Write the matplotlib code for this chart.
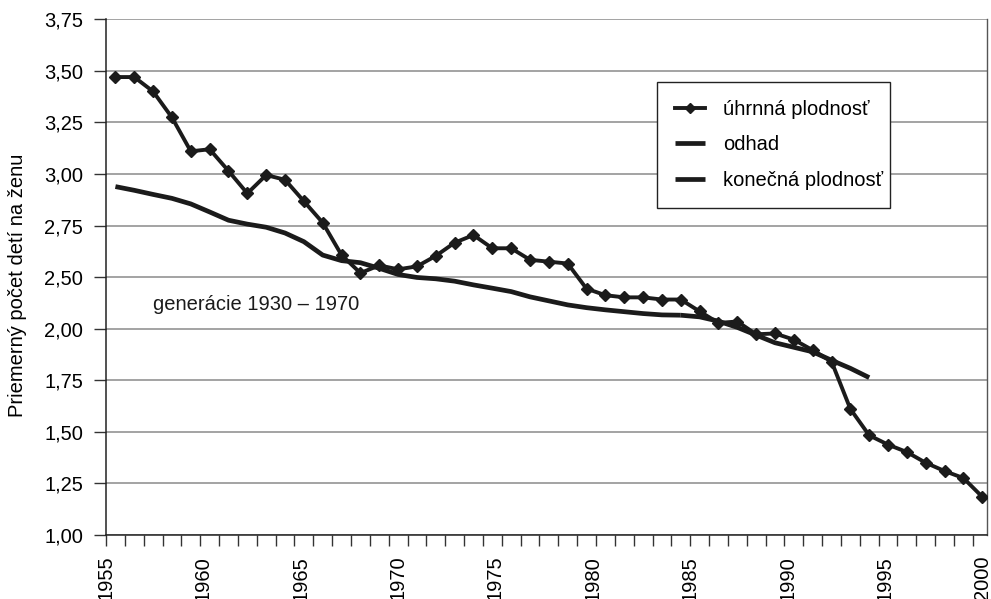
import numpy as np
import matplotlib
matplotlib.use("Agg")
import matplotlib.pyplot as plt

# ---------------- data ----------------
years = list(range(1955, 2002))
tfr = [3.47, 3.47, 3.40, 3.274, 3.11, 3.12, 3.015, 2.906, 2.995, 2.972,
       2.868, 2.764, 2.607, 2.52, 2.557, 2.538, 2.552, 2.603, 2.667, 2.704,
       2.64, 2.64, 2.584, 2.575, 2.566, 2.388, 2.325, 2.304, 2.304, 2.283,
       2.283, 2.168, 2.056, 2.070, 1.973, 1.977, 1.947, 1.896, 1.841, 1.611,
       1.483, 1.438, 1.402, 1.35, 1.31, 1.276, 1.185]

# completed fertility of generations 1930-1970 (plotted 25 years later)
gen_shift = 25
gen_final = list(range(1930, 1961))
final_fert = [2.939, 2.921, 2.901, 2.882, 2.855, 2.816, 2.776, 2.757, 2.742, 2.714,
              2.672, 2.607, 2.58, 2.57, 2.543, 2.513, 2.497, 2.484, 2.461, 2.425,
              2.393, 2.36, 2.309, 2.27, 2.231, 2.204, 2.183, 2.165, 2.147, 2.134,
              2.131]
gen_est = list(range(1960, 1971))
est_fert = [2.131, 2.115, 2.073, 2.013, 1.969, 1.932, 1.91, 1.888, 1.847, 1.808,
            1.763]

ytick_values = [1.00, 1.25, 1.50, 1.75, 2.00, 2.50, 2.75, 3.00, 3.25, 3.50, 3.75]
ytick_labels = ["1,00", "1,25", "1,50", "1,75", "2,00", "2,50", "2,75", "3,00",
                "3,25", "3,50", "3,75"]
xlabel_years = [1955, 1960, 1965, 1970, 1975, 1980, 1985, 1990, 1995, 2000]

labels = ["úhrnná plodnosť", "odhad", "konečná plodnosť"]
ylabel = "Priemerný počet detí na ženu"
note = "generácie 1930 – 1970"

# ---------------- style ----------------
plt.rcParams["font.family"] = ["Liberation Sans Narrow", "Liberation Sans", "DejaVu Sans"]
FS = 14.5
INK = "#1b1b1b"

fig = plt.figure(figsize=(9.91, 5.99), dpi=100)
ax = fig.add_axes([106 / 991, 1 - 535 / 599, (987 - 106) / 991, (535 - 19.3) / 599])

# piecewise-linear y scale: each labelled value gets an equal step
yv = np.array(ytick_values, float)
pos = np.arange(len(yv), dtype=float)


def fwd(v):
    v = np.asarray(v, float)
    r = np.interp(v, yv, pos)
    r = np.where(v < yv[0], (v - yv[0]) / 0.25, r)
    r = np.where(v > yv[-1], pos[-1] + (v - yv[-1]) / 0.25, r)
    return r


def inv(p):
    p = np.asarray(p, float)
    r = np.interp(p, pos, yv)
    r = np.where(p < 0, yv[0] + p * 0.25, r)
    r = np.where(p > pos[-1], yv[-1] + (p - pos[-1]) * 0.25, r)
    return r


ax.set_yscale("function", functions=(fwd, inv))

first = years[0]
x_tfr = np.array(years) - first + 0.5
x_final = np.array(gen_final) + gen_shift - first + 0.5
x_est = np.array(gen_est) + gen_shift - first + 0.5

n_cat = len(years)
x_right = n_cat - 0.25

l_tfr, = ax.plot(x_tfr, tfr, color=INK, lw=2.8, marker="D", ms=6,
                 mfc=INK, mec=INK, zorder=4, label=labels[0])
l_est, = ax.plot(x_est, est_fert, color=INK, lw=3.4, zorder=3,
                 solid_capstyle="butt", label=labels[1])
l_fin, = ax.plot(x_final, final_fert, color=INK, lw=3.4, zorder=3,
                 solid_capstyle="butt", label=labels[2])

ax.set_xlim(0, x_right)
ax.set_ylim(yv[0], yv[-1])

# y axis
ax.yaxis.set_major_locator(matplotlib.ticker.FixedLocator(ytick_values))
ax.yaxis.set_minor_locator(matplotlib.ticker.NullLocator())
ax.set_yticklabels(ytick_labels)
ax.grid(axis="y", color="#8a8a8a", lw=1.1, zorder=1)

# x axis: tick marks at category borders, labels spread evenly
ax.xaxis.remove_overlapping_locs = False
ax.set_xticks(np.arange(0, n_cat))
ax.set_xticklabels([])
label_pos = ((np.array(xlabel_years) - xlabel_years[0])
             / (xlabel_years[-1] - xlabel_years[0]) * x_tfr[-1])
ax.set_xticks(label_pos, minor=True)
ax.set_xticklabels([str(y) for y in xlabel_years], minor=True, rotation=90,
                   fontsize=FS, va="top")
ax.tick_params(axis="x", which="minor", length=0, pad=15)
ax.tick_params(axis="x", which="major", length=8, width=1, direction="out", color="#333333")
ax.tick_params(axis="y", length=8.5, width=1, direction="out", labelsize=FS, pad=8,
               color="#333333")

for s in ("left", "bottom"):
    ax.spines[s].set_color("#222222")
    ax.spines[s].set_linewidth(1.1)
ax.spines["right"].set_color("#555555")
ax.spines["right"].set_linewidth(1.0)
ax.spines["top"].set_visible(False)

fig.text(18 / 991, 1 - 285 / 599, ylabel, rotation=90, ha="center", va="center",
         fontsize=FS)

ax.text(2.5, 2.23, note, ha="left", va="center", fontsize=FS, color=INK)

leg = ax.legend(handles=[l_tfr, l_est, l_fin], loc="upper left",
                bbox_to_anchor=(656.7 / 991, 1 - 208.3 / 599, (890 - 656.7) / 991,
                                (208.3 - 81.7) / 599),
                bbox_transform=fig.transFigure, mode="expand", borderaxespad=0,
                fontsize=FS, frameon=True, fancybox=False, framealpha=1,
                edgecolor="#222222", handlelength=1.5, handletextpad=0.9,
                labelspacing=0.82, borderpad=0.9, markerscale=0.9)
leg.get_frame().set_linewidth(1.0)
leg.set_zorder(5)

fig.savefig("out.png", dpi=100)
